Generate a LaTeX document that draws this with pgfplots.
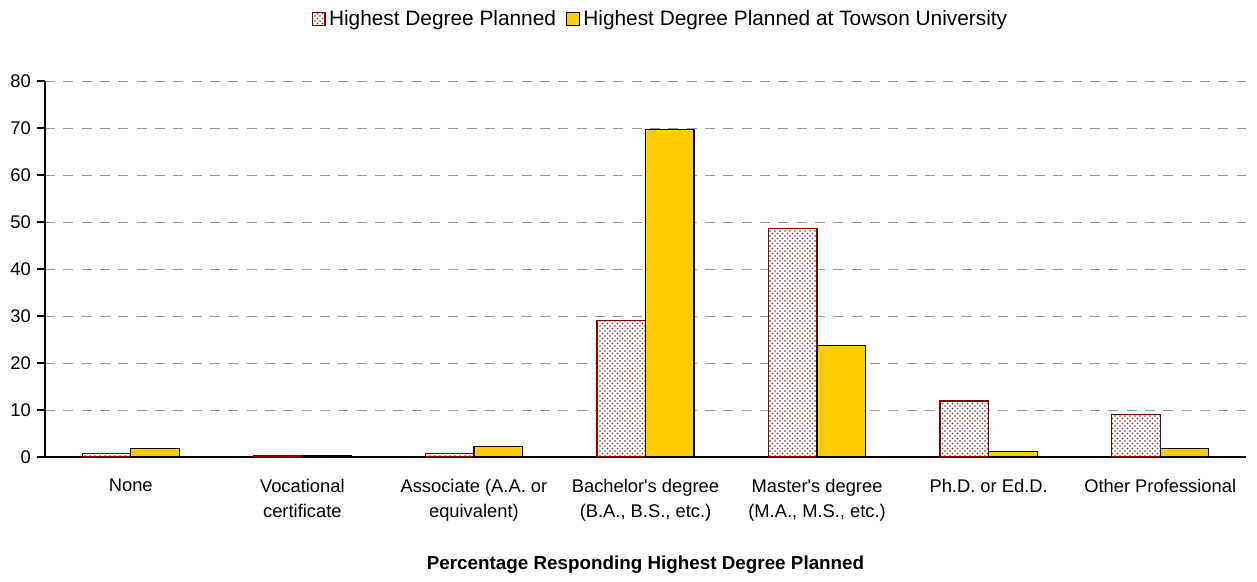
\documentclass[border=0pt]{standalone}
\usepackage{fontspec}
\setmainfont{Liberation Sans}
\usepackage{pgfplots}
\pgfplotsset{compat=1.18}
\usetikzlibrary{patterns}
\definecolor{barred}{RGB}{128,0,0}
\definecolor{baryellow}{RGB}{255,204,0}
\definecolor{dotred}{RGB}{160,30,30}
\begin{document}
\begin{tikzpicture}
\useasboundingbox (-27pt,-74.4pt) rectangle (727.2pt,274.2pt);
\begin{axis}[
  at={(0,0)}, anchor=south west,
  scale only axis,
  width=720.6pt, height=225.6pt,
  ybar=0pt, bar width=0.283,
  xmin=-0.5, xmax=6.5,
  ymin=0, ymax=80,
  ytick={0,10,...,80},
  xtick={0,...,6},
  xticklabels={None, {Vocational\\certificate}, {Associate (A.A. or\\equivalent)}, {Bachelor\textquotesingle s degree\\(B.A., B.S., etc.)}, {Master\textquotesingle s degree\\(M.A., M.S., etc.)}, {Ph.D. or Ed.D.}, {Other Professional}},
  x tick style={draw=none},
  extra x ticks={-0.5,0.5,1.5,2.5,3.5,4.5,5.5,6.5},
  extra x tick labels={},
  extra x tick style={tick style={draw=black, thick}, major tick length=5pt, tick align=outside},
  ytick style={draw=black, thick},
  major tick length=5pt,
  tick align=outside,
  axis lines*=left,
  axis line style={thick, -},
  ymajorgrids,
  grid style={dashed, gray!80, dash pattern=on 6pt off 5pt},
  /pgf/number format/assume math mode=true,
  ticklabel style={font=\fontsize{11}{15}\selectfont},
  xticklabel style={align=center, yshift=-4.5pt},
  xlabel={\textbf{Percentage Responding Highest Degree Planned}},
  xlabel style={at={(axis description cs:0.5,-0.287)}, anchor=center, font=\fontsize{11.3}{13}\selectfont},
  legend style={at={(0.513,1.165)}, anchor=center, draw=none, legend columns=2, font=\fontsize{12.5}{14}\selectfont, /tikz/every even column/.append style={column sep=4pt}},
  legend image code/.code={\draw[#1, thick] (0pt,-3.8pt) rectangle (7.6pt,3.8pt);},
]
\addplot[draw=barred, thick, fill=white, postaction={pattern=crosshatch dots, pattern color=dotred}] coordinates {(0,0.7) (1,0.3) (2,0.7) (3,29.0) (4,48.6) (5,11.9) (6,9.0)};
\addplot[draw=black, thick, fill=baryellow] coordinates {(0,1.8) (1,0.3) (2,2.2) (3,69.7) (4,23.7) (5,1.2) (6,1.85)};
\legend{Highest Degree Planned, Highest Degree Planned at Towson University}
\end{axis}
\end{tikzpicture}
\end{document}
